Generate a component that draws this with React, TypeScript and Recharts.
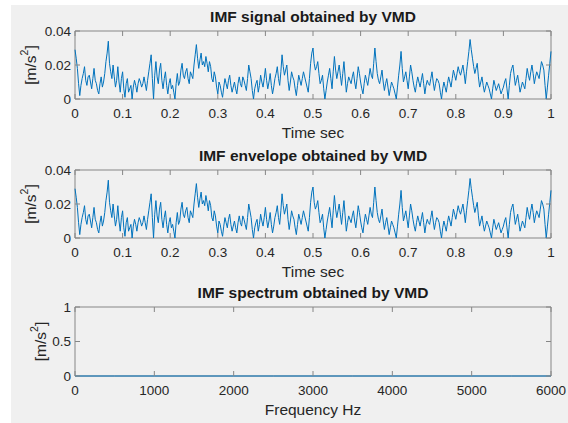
import { LineChart, Line, XAxis, YAxis, ReferenceArea } from "recharts";

// IMF amplitude, one sample every SAMPLE_STEP seconds
const SAMPLE_STEP = 0.0025;
const imfSignal = [
  0.029, 0.024, 0.018, 0.009, 0.002, 0.008, 0.012, 0.015, 0.019, 0.011,
  0.008, 0.013, 0.014, 0.01, 0.006, 0.012, 0.018, 0.011, 0.009, 0.005,
  0.003, 0.009, 0.013, 0.007, 0.01, 0.015, 0.022, 0.027, 0.034, 0.021,
  0.016, 0.012, 0.02, 0.013, 0.007, 0.011, 0.019, 0.01, 0.004, 0.012,
  0.016, 0.006, 0.001, 0.009, 0.012, 0.004, 0.006, 0.008, 0.0, 0.007,
  0.011, 0.008, 0.004, 0.009, 0.012, 0.01, 0.007, 0.009, 0.013, 0.009,
  0.005, 0.011, 0.016, 0.021, 0.026, 0.012, 0.0, 0.014, 0.022, 0.013,
  0.009, 0.017, 0.021, 0.011, 0.006, 0.012, 0.016, 0.008, 0.003, 0.009,
  0.012, 0.006, 0.008, 0.004, 0.0, 0.009, 0.015, 0.008, 0.01, 0.017,
  0.021, 0.014, 0.012, 0.016, 0.018, 0.012, 0.009, 0.016, 0.014, 0.012,
  0.02, 0.026, 0.032, 0.024, 0.018, 0.023, 0.027, 0.02, 0.022, 0.019,
  0.025, 0.021, 0.016, 0.022, 0.019, 0.012, 0.01, 0.016, 0.013, 0.007,
  0.003, 0.01, 0.008, 0.004, 0.001, 0.007, 0.012, 0.009, 0.006, 0.011,
  0.014, 0.008, 0.004, 0.007, 0.01, 0.006, 0.003, 0.009, 0.013, 0.009,
  0.007, 0.013, 0.011, 0.008, 0.005, 0.012, 0.02, 0.016, 0.012, 0.005,
  0.0, 0.006, 0.009, 0.011, 0.004, 0.008, 0.014, 0.01, 0.007, 0.012,
  0.018, 0.011, 0.006, 0.01, 0.015, 0.008, 0.003, 0.007, 0.012, 0.015,
  0.019, 0.012, 0.008, 0.016, 0.026, 0.019, 0.014, 0.017, 0.02, 0.011,
  0.005, 0.01, 0.016, 0.013, 0.011, 0.006, 0.002, 0.008, 0.014, 0.011,
  0.008, 0.012, 0.016, 0.013, 0.01, 0.007, 0.004, 0.012, 0.021, 0.027,
  0.03, 0.021, 0.017, 0.019, 0.022, 0.015, 0.009, 0.011, 0.014, 0.006,
  0.0, 0.005, 0.01, 0.014, 0.018, 0.012, 0.006, 0.016, 0.025, 0.017,
  0.012, 0.016, 0.02, 0.014, 0.008, 0.015, 0.022, 0.013, 0.004, 0.009,
  0.013, 0.011, 0.009, 0.013, 0.016, 0.01, 0.006, 0.012, 0.019, 0.015,
  0.01, 0.006, 0.003, 0.009, 0.014, 0.011, 0.008, 0.013, 0.018, 0.014,
  0.012, 0.021, 0.03, 0.022, 0.015, 0.011, 0.009, 0.013, 0.017, 0.01,
  0.005, 0.009, 0.012, 0.007, 0.002, 0.006, 0.01, 0.008, 0.006, 0.003,
  0.0, 0.007, 0.014, 0.02, 0.028, 0.018, 0.01, 0.013, 0.016, 0.011,
  0.006, 0.013, 0.02, 0.016, 0.011, 0.007, 0.004, 0.009, 0.013, 0.01,
  0.007, 0.011, 0.015, 0.009, 0.003, 0.008, 0.011, 0.009, 0.008, 0.012,
  0.016, 0.01, 0.005, 0.009, 0.012, 0.011, 0.009, 0.004, 0.0, 0.006,
  0.01, 0.007, 0.004, 0.009, 0.013, 0.01, 0.007, 0.012, 0.017, 0.014,
  0.011, 0.015, 0.019, 0.016, 0.014, 0.017, 0.02, 0.015, 0.009, 0.016,
  0.022, 0.028, 0.035, 0.029, 0.024, 0.019, 0.015, 0.018, 0.021, 0.013,
  0.007, 0.01, 0.013, 0.008, 0.004, 0.007, 0.01, 0.008, 0.006, 0.003,
  0.0, 0.006, 0.011, 0.008, 0.005, 0.007, 0.009, 0.006, 0.003, 0.005,
  0.007, 0.01, 0.012, 0.006, 0.0, 0.008, 0.015, 0.018, 0.02, 0.014,
  0.008, 0.011, 0.014, 0.009, 0.004, 0.007, 0.01, 0.008, 0.006, 0.012,
  0.018, 0.014, 0.011, 0.016, 0.02, 0.015, 0.009, 0.013, 0.016, 0.014,
  0.012, 0.017, 0.022, 0.02, 0.017, 0.008, 0.0, 0.007, 0.014, 0.021,
  0.028,
];
// the envelope panel is drawn identical to the signal panel
const imfEnvelope = imfSignal;

const spectrumFreqs = [0, 500, 1000, 1500, 2000, 2500, 3000, 3500, 4000, 4500, 5000, 5500, 6000];
const spectrumAmps = [0, 0, 0, 0, 0, 0, 0, 0, 0, 0, 0, 0, 0];

const timeTicks = [0, 0.1, 0.2, 0.3, 0.4, 0.5, 0.6, 0.7, 0.8, 0.9, 1];
const imfTicks = [0, 0.02, 0.04];
const freqTicks = [0, 1000, 2000, 3000, 4000, 5000, 6000];
const specTicks = [0, 0.5, 1];

const signalRows = imfSignal.map((v, i) => ({ x: i * SAMPLE_STEP, y: v }));
const envelopeRows = imfEnvelope.map((v, i) => ({ x: i * SAMPLE_STEP, y: v }));
const spectrumRows = spectrumFreqs.map((f, i) => ({ x: f, y: spectrumAmps[i] }));

const CHART_W = 568;
const PLOT_LEFT = 75;
const PLOT_RIGHT = 551;
const MARGIN_TOP = 31;
const XAXIS_H = 46;
const TICK_LEN = 5;
const AXIS_GRAY = "#868686";
const TEXT = "#262626";
const BLUE = "#0072BD";
const FONT = '"Liberation Sans", Arial, Helvetica, sans-serif';

type Row = { x: number; y: number };

function Subplot({
  top,
  plotHeight,
  title,
  rows,
  xDomain,
  xTicks,
  yDomain,
  yTicks,
  xLabel,
  yLabelX,
}: {
  top: number;
  plotHeight: number;
  title: string;
  rows: Row[];
  xDomain: [number, number];
  xTicks: number[];
  yDomain: [number, number];
  yTicks: number[];
  xLabel: string;
  yLabelX: number;
}) {
  const height = MARGIN_TOP + plotHeight + XAXIS_H;
  const plotBottom = MARGIN_TOP + plotHeight;
  const midX = (PLOT_LEFT + PLOT_RIGHT) / 2;

  const XTick = (props: any) => {
    const { x, payload } = props;
    return (
      <g>
        <line x1={x} x2={x} y1={plotBottom} y2={plotBottom - TICK_LEN} stroke={AXIS_GRAY} />
        <line x1={x} x2={x} y1={MARGIN_TOP} y2={MARGIN_TOP + TICK_LEN} stroke={AXIS_GRAY} />
        <text
          x={x}
          y={plotBottom + 14}
          textAnchor="middle"
          dominantBaseline="central"
          fill={TEXT}
          fontSize={13.5}
        >
          {String(payload.value)}
        </text>
      </g>
    );
  };

  const YTick = (props: any) => {
    const { y, payload } = props;
    return (
      <g>
        <line x1={PLOT_LEFT} x2={PLOT_LEFT + TICK_LEN} y1={y} y2={y} stroke={AXIS_GRAY} />
        <line x1={PLOT_RIGHT} x2={PLOT_RIGHT - TICK_LEN} y1={y} y2={y} stroke={AXIS_GRAY} />
        <text
          x={PLOT_LEFT - 4}
          y={y}
          textAnchor="end"
          dominantBaseline="central"
          fill={TEXT}
          fontSize={13.5}
        >
          {String(payload.value)}
        </text>
      </g>
    );
  };

  const XLabel = () => (
    <text
      x={midX}
      y={plotBottom + 33}
      textAnchor="middle"
      dominantBaseline="central"
      fill={TEXT}
      fontSize={15.5}
    >
      {xLabel}
    </text>
  );

  const cy = MARGIN_TOP + plotHeight / 2;
  const YLabel = () => (
    <text
      x={yLabelX}
      y={cy}
      transform={`rotate(-90 ${yLabelX} ${cy})`}
      textAnchor="middle"
      dominantBaseline="central"
      fill={TEXT}
      fontSize={15.5}
    >
      [m/s
      <tspan dy={-6} fontSize={10.5}>
        2
      </tspan>
      <tspan dy={6}>]</tspan>
    </text>
  );

  return (
    <div style={{ position: "absolute", left: 0, top, width: CHART_W, height }}>
      <div
        style={{
          position: "absolute",
          left: PLOT_LEFT,
          width: PLOT_RIGHT - PLOT_LEFT,
          top: MARGIN_TOP - 24,
          height: 20,
          lineHeight: "20px",
          textAlign: "center",
          fontWeight: "bold",
          fontSize: 15.5,
          color: "#1a1a1a",
          whiteSpace: "nowrap",
        }}
      >
        {title}
      </div>
      <LineChart
        width={CHART_W}
        height={height}
        data={rows}
        margin={{ top: MARGIN_TOP, right: CHART_W - PLOT_RIGHT, bottom: 0, left: 0 }}
        style={{ fontFamily: FONT }}
      >
        <XAxis
          dataKey="x"
          type="number"
          domain={xDomain}
          ticks={xTicks}
          interval={0}
          tick={XTick}
          tickLine={false}
          axisLine={false}
          height={XAXIS_H}
          label={XLabel}
        />
        <YAxis
          type="number"
          domain={yDomain}
          ticks={yTicks}
          interval={0}
          tick={YTick}
          tickLine={false}
          axisLine={false}
          width={PLOT_LEFT}
          label={YLabel}
        />
        <ReferenceArea
          x1={xDomain[0]}
          x2={xDomain[1]}
          y1={yDomain[0]}
          y2={yDomain[1]}
          fill="none"
          stroke={AXIS_GRAY}
          strokeWidth={1}
          ifOverflow="visible"
        />
        <Line
          type="linear"
          dataKey="y"
          stroke={BLUE}
          strokeWidth={1}
          dot={false}
          activeDot={false}
          isAnimationActive={false}
        />
      </LineChart>
    </div>
  );
}

export default function App() {
  return (
    <div
      style={{
        position: "absolute",
        left: 0,
        top: 0,
        width: 568,
        height: 423,
        background: "#ffffff",
        fontFamily: FONT,
        overflow: "hidden",
      }}
    >
      <div
        style={{
          position: "absolute",
          left: 11,
          top: 5,
          right: 0,
          bottom: 0,
          background: "#f0f0f0",
        }}
      />
      <Subplot
        top={0}
        plotHeight={68}
        title="IMF signal obtained by VMD"
        rows={signalRows}
        xDomain={[0, 1]}
        xTicks={timeTicks}
        yDomain={[0, 0.04]}
        yTicks={imfTicks}
        xLabel="Time sec"
        yLabelX={30}
      />
      <Subplot
        top={139}
        plotHeight={68}
        title="IMF envelope obtained by VMD"
        rows={envelopeRows}
        xDomain={[0, 1]}
        xTicks={timeTicks}
        yDomain={[0, 0.04]}
        yTicks={imfTicks}
        xLabel="Time sec"
        yLabelX={30}
      />
      <Subplot
        top={276}
        plotHeight={69}
        title="IMF spectrum obtained by VMD"
        rows={spectrumRows}
        xDomain={[0, 6000]}
        xTicks={freqTicks}
        yDomain={[0, 1]}
        yTicks={specTicks}
        xLabel="Frequency Hz"
        yLabelX={40}
      />
    </div>
  );
}
